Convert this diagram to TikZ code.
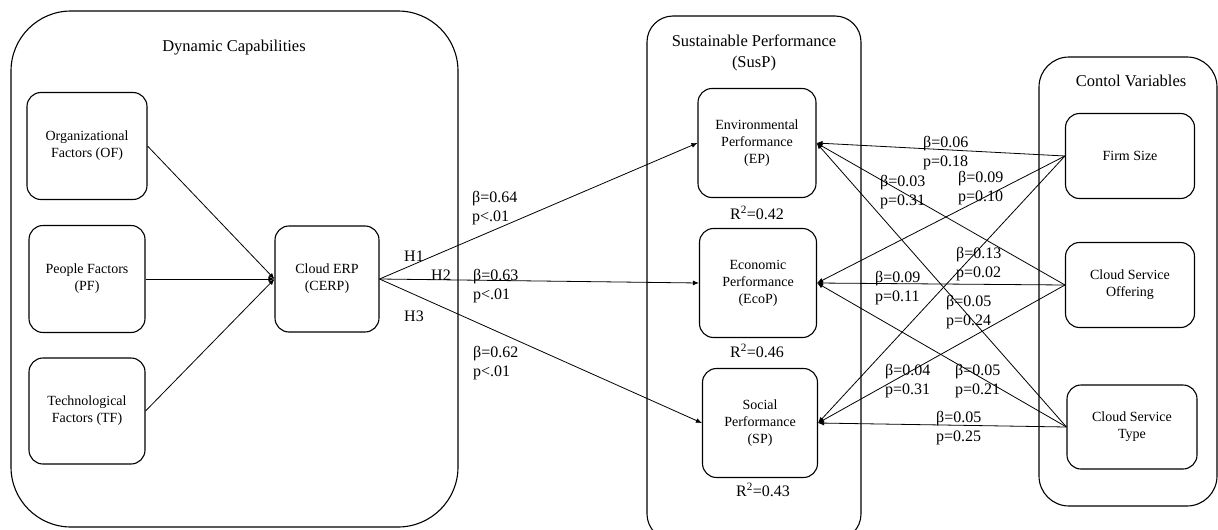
\documentclass[tikz,border=0pt]{standalone}
\usepackage{fontspec}
\setmainfont{Liberation Serif}
\usetikzlibrary{arrows.meta}
\begin{document}
\begin{tikzpicture}[x=1pt,y=-1pt,
  grp/.style={draw, line width=1.1pt},
  box/.style={draw, line width=1.1pt, rounded corners=14pt, align=center, inner sep=0pt,
    font=\fontsize{14}{17}\selectfont},
  lab/.style={font=\fontsize{16}{19.5}\selectfont, align=left, anchor=west, inner sep=0pt},
  ttl/.style={font=\fontsize{16.5}{21}\selectfont, align=center, inner sep=0pt},
  rsq/.style={font=\fontsize{16}{19}\selectfont, inner sep=0pt},
  con/.style={line width=0.8pt, -{Latex[length=6pt,width=5pt]}}]
\useasboundingbox (0,0) rectangle (1218,530);
% group containers
\draw[grp, rounded corners=60pt] (11,11) rectangle (458,527);
\draw[grp, rounded corners=26pt] (647,16) rectangle (861,540);
\draw[grp, rounded corners=30pt] (1039,57) rectangle (1217,506);
\node[ttl] (tdc) at (234,48) {Dynamic Capabilities};
\node[ttl] (tsp) at (754,53) {Sustainable Performance\\(SusP)};
\node[ttl] (tcv) at (1131,81) {Contol Variables};
% nodes
\node[box, minimum width=120pt, minimum height=107pt] (OF) at (87,146) {Organizational\\Factors (OF)};
\node[box, minimum width=116pt, minimum height=107pt] (PF) at (87,279) {People Factors\\(PF)};
\node[box, minimum width=116pt, minimum height=106pt] (TF) at (87,411) {Technological\\Factors (TF)};
\node[box, minimum width=104pt, minimum height=106pt] (CERP) at (327,279) {Cloud ERP\\(CERP)};
\node[box, minimum width=118pt, minimum height=109pt] (EP) at (757,143) {Environmental\\Performance\\(EP)};
\node[box, minimum width=117pt, minimum height=109pt] (EcoP) at (758,283) {Economic\\Performance\\(EcoP)};
\node[box, minimum width=115pt, minimum height=109pt] (SP) at (760,423) {Social\\Performance\\(SP)};
\node[box, minimum width=129pt, minimum height=85pt] (FS) at (1130,156) {Firm Size};
\node[box, minimum width=129pt, minimum height=85pt] (CSO) at (1130,285) {Cloud Service\\Offering};
\node[box, minimum width=130pt, minimum height=84pt] (CST) at (1132,427) {Cloud Service\\Type};
% R squared
\node[rsq] (r1) at (757,213) {R\textsuperscript{2}=0.42};
\node[rsq] (r2) at (757,351) {R\textsuperscript{2}=0.46};
\node[rsq] (r3) at (763,490) {R\textsuperscript{2}=0.43};
% connectors left
\draw[con] (OF.east) -- (CERP.west);
\draw[con] (PF.east) -- (CERP.west);
\draw[con] (TF.east) -- (CERP.west);
\draw[con] (CERP.east) -- (EP.west);
\draw[con] (CERP.east) -- (EcoP.west);
\draw[con] (CERP.east) -- (SP.west);
\node[lab] (h1) at (404,256) {H1};
\node[lab] (h2) at (431,275) {H2};
\node[lab] (h3) at (404,316) {H3};
\node[lab] (b1) at (472,208) {β=0.64\\p<.01};
\node[lab] (b2) at (473,286) {β=0.63\\p<.01};
\node[lab] (b3) at (473,363) {β=0.62\\p<.01};
% control connectors
\draw[con] (FS.west) -- (EP.east);
\draw[con] (FS.west) -- (EcoP.east);
\draw[con] (FS.west) -- (SP.east);
\draw[con] (CSO.west) -- (EP.east);
\draw[con] (CSO.west) -- (EcoP.east);
\draw[con] (CSO.west) -- (SP.east);
\draw[con] (CST.west) -- (EP.east);
\draw[con] (CST.west) -- (EcoP.east);
\draw[con] (CST.west) -- (SP.east);
\node[lab] (c1) at (923,153) {β=0.06\\p=0.18};
\node[lab] (c2) at (880,192) {β=0.03\\p=0.31};
\node[lab] (c3) at (958,188) {β=0.09\\p=0.10};
\node[lab] (c4) at (956,264) {β=0.13\\p=0.02};
\node[lab] (c5) at (875,288) {β=0.09\\p=0.11};
\node[lab] (c6) at (946,312) {β=0.05\\p=0.24};
\node[lab] (c7) at (885,381) {β=0.04\\p=0.31};
\node[lab] (c8) at (955,381) {β=0.05\\p=0.21};
\node[lab] (c9) at (936,428) {β=0.05\\p=0.25};
\end{tikzpicture}
\end{document}
